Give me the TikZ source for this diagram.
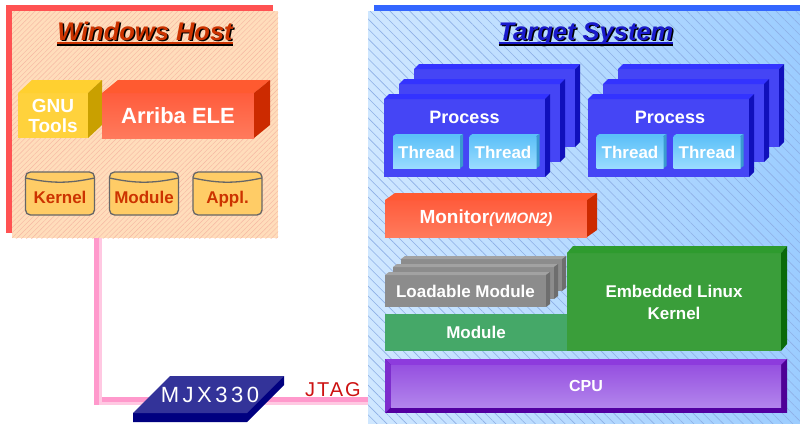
\documentclass[tikz,border=0pt]{standalone}
\usepackage{fontspec}
\setmainfont{Liberation Sans}
\usetikzlibrary{positioning, patterns.meta}

\definecolor{hostred}{HTML}{FF5252}
\definecolor{hostbg}{HTML}{FFDDBB}
\definecolor{hostline}{HTML}{F6B6A2}
\definecolor{hosttitle}{HTML}{CC3300}
\definecolor{targetblue}{HTML}{3366FF}
\definecolor{targetbgA}{HTML}{CFE7FF}
\definecolor{targetbgB}{HTML}{9CCDFF}
\definecolor{targetline}{HTML}{8EAFE6}
\definecolor{targettitle}{HTML}{1A1ACC}
\definecolor{gnufront}{HTML}{FFD23C}
\definecolor{gnutop}{HTML}{FFD030}
\definecolor{gnuside}{HTML}{C9A000}
\definecolor{elefront}{HTML}{FF5C3C}
\definecolor{elelow}{HTML}{FF7A5C}
\definecolor{eletop}{HTML}{FF5A30}
\definecolor{eleside}{HTML}{CC2A00}
\definecolor{drumfill}{HTML}{FFCC66}
\definecolor{drumline}{HTML}{666666}
\definecolor{procfront}{HTML}{4545F5}
\definecolor{proctop}{HTML}{3333FF}
\definecolor{procside}{HTML}{1010BB}
\definecolor{threadtop}{HTML}{5CC0F8}
\definecolor{threadlow}{HTML}{9ADCFF}
\definecolor{threadside}{HTML}{3A9AD0}
\definecolor{grayfront}{HTML}{8C8C8C}
\definecolor{graytop}{HTML}{A2A2A2}
\definecolor{grayside}{HTML}{6E6E6E}
\definecolor{modfront}{HTML}{45A868}
\definecolor{kernfront}{HTML}{3A9E3A}
\definecolor{kerntop}{HTML}{2E9B2E}
\definecolor{kernside}{HTML}{0A6A0A}
\definecolor{cpudark}{HTML}{5200A0}
\definecolor{cputop}{HTML}{8D3BDD}
\definecolor{cpuleft}{HTML}{7D2DCD}
\definecolor{cpuright}{HTML}{4E0096}
\definecolor{cpuhigh}{HTML}{9650E0}
\definecolor{cpulow}{HTML}{B285EC}
\definecolor{jtagpink}{HTML}{FF99CC}
\definecolor{jtaglight}{HTML}{FFC8E2}
\definecolor{jtagred}{HTML}{CC1111}
\definecolor{mjxtop}{HTML}{333399}
\definecolor{mjxside}{HTML}{000080}

% top and side faces of a box node: node, dx, dy, top colour, side colour
\newcommand{\depthfaces}[5]{%
  \fill[#4] (#1.north west) -- ++(#2,-#3) -- ([shift={(#2,-#3)}]#1.north east) -- (#1.north east) -- cycle;
  \fill[#5] (#1.north east) -- ++(#2,-#3) -- ([shift={(#2,-#3)}]#1.south east) -- (#1.south east) -- cycle;}

\begin{document}
\begin{tikzpicture}[x=1pt, y=-1pt,
    every node/.style={outer sep=0pt, text=white},
    title/.style={inner sep=0pt, anchor=base, font=\fontsize{25.5}{28}\selectfont\bfseries\itshape},
    panel/.style={inner sep=0pt, minimum width=#1},
    procface/.style={fill=procfront, minimum width=161pt, minimum height=78pt},
    proctext/.style={font=\fontsize{18}{20}\selectfont\bfseries},
    threadface/.style={top color=threadtop, bottom color=threadlow, minimum width=67pt, minimum height=32pt,
        font=\fontsize{17}{20}\selectfont\bfseries},
    grayface/.style={fill=grayfront, minimum width=161pt, minimum height=32pt, font=\fontsize{17}{20}\selectfont\bfseries},
    drum/.style={draw=drumline, line width=1.3pt, fill=drumfill, rounded corners=5pt,
        minimum width=69pt, minimum height=43pt, text=hosttitle, font=\fontsize{17}{20}\selectfont\bfseries,
        text height=19pt, text depth=0pt,
        path picture={\draw[drumline, line width=1.3pt] ([yshift=-6pt]path picture bounding box.north west)
            to[bend right=12] ([yshift=-6pt]path picture bounding box.north east);}},
    jtag/.style={line width=8pt, jtagpink}]
    \useasboundingbox (0,0) rectangle (800,423);

    % panels
    \node[panel=267pt, minimum height=228pt, fill=hostred] (hostback) at (139.5,119) {};
    \node[panel=266pt, minimum height=227pt, fill=hostbg,
        postaction={pattern={Lines[angle=45,distance=3.6pt,line width=0.4pt]}, pattern color=hostline}]
        (winhost) at (145,124.5) {};
    \node[panel=426pt, minimum height=6pt, fill=targetblue] (targetstrip) at (587,8) {};
    \node[panel=432pt, minimum height=412pt, left color=targetbgA, right color=targetbgB,
        postaction={pattern={Lines[angle=-45,distance=7pt,line width=0.6pt]}, pattern color=targetline}]
        (target) at (584,217) {};

    % titles
    \node[title, text=black] (hostshadow) at (146.5,41.5) {Windows Host};
    \node[title, text=hosttitle] (hosttitle) at (145,40) {Windows Host};
    \draw[line width=2pt, black] ([yshift=-4.5pt]hosttitle.base west) -- ([yshift=-4.5pt]hosttitle.base east);
    \draw[line width=2pt, hosttitle] ([yshift=-3pt]hosttitle.base west) -- ([yshift=-3pt]hosttitle.base east);
    \node[title, text=black] (targetshadow) at (587.5,41.5) {Target System};
    \node[title, text=targettitle] (targettitle) at (586,40) {Target System};
    \draw[line width=2pt, black] ([yshift=-4.5pt]targettitle.base west) -- ([yshift=-4.5pt]targettitle.base east);
    \draw[line width=2pt, targettitle] ([yshift=-3pt]targettitle.base west) -- ([yshift=-3pt]targettitle.base east);

    % JTAG cable
    \coordinate (hostport) at ([xshift=86pt]winhost.south west);
    \coordinate (targetport) at (target.west |- 0,401);
    \draw[jtag] (hostport) |- (targetport);
    \draw[line width=2.5pt, jtaglight] ([xshift=2.5pt]hostport) |- ([yshift=-2.5pt]targetport);
    \fill[mjxside] (284,376) -- (284,385) -- (247,422) -- (133,422) -- (133,413) -- cycle;
    \fill[mjxtop] (170,376) -- (284,376) -- (247,413) -- (133,413) -- cycle;
    \node[font=\fontsize{22}{24}\selectfont\addfontfeatures{LetterSpace=16}] (mjx) at (210,395) {MJX330};
    \node[text=jtagred, font=\fontsize{20}{22}\selectfont\addfontfeatures{LetterSpace=10}] (jtaglabel) at (333,389.5) {JTAG};

    % host tools
    \node[fill=gnufront, minimum width=70pt, minimum height=45pt, align=center,
        font=\fontsize{19}{20}\selectfont\bfseries] (gnu) at (53,115.5) {GNU\\Tools};
    \depthfaces{gnu}{14}{13}{gnutop}{gnuside}
    \node[top color=elefront, bottom color=elelow, minimum width=152pt, minimum height=45pt,
        font=\fontsize{22}{24}\selectfont\bfseries] (arriba) at (178,115.5) {Arriba ELE};
    \depthfaces{arriba}{16}{13}{eletop}{eleside}
    \node[drum] (kernsrc) at (60,193.5) {Kernel};
    \node[drum] (modsrc) at (144,193.5) {Module};
    \node[drum] (applsrc) at (227.5,193.5) {Appl.};

    % processes
    \node[procface] (procA3) at (494.5,108) {};
    \depthfaces{procA3}{5}{5}{proctop}{procside}
    \node[procface] (procA2) at (479.5,123) {};
    \depthfaces{procA2}{5}{5}{proctop}{procside}
    \node[procface] (procA1) at (464.5,138) {};
    \depthfaces{procA1}{5}{5}{proctop}{procside}
    \node[proctext] (procAlabel) at (464.5,117) {Process};
    \node[threadface] (threadA1) at (426.5,152) {Thread};
    \depthfaces{threadA1}{3}{2}{threadtop}{threadside}
    \node[threadface] (threadA2) at (503,152) {Thread};
    \depthfaces{threadA2}{3}{2}{threadtop}{threadside}

    \node[procface] (procB3) at (698.5,108) {};
    \depthfaces{procB3}{5}{5}{proctop}{procside}
    \node[procface] (procB2) at (683.5,123) {};
    \depthfaces{procB2}{5}{5}{proctop}{procside}
    \node[procface] (procB1) at (668.5,138) {};
    \depthfaces{procB1}{5}{5}{proctop}{procside}
    \node[proctext] (procBlabel) at (670,117) {Process};
    \node[threadface] (threadB1) at (630,152) {Thread};
    \depthfaces{threadB1}{3}{2}{threadtop}{threadside}
    \node[threadface] (threadB2) at (707,152) {Thread};
    \depthfaces{threadB2}{3}{2}{threadtop}{threadside}

    % monitor
    \node[top color=elefront, bottom color=elelow, minimum width=202pt, minimum height=37pt,
        font=\fontsize{19}{22}\selectfont\bfseries] (monitor) at (486,218.5)
        {Monitor{\fontsize{15}{18}\selectfont\itshape(VMON2)}};
    \depthfaces{monitor}{10}{7}{eletop}{eleside}

    % kernel side
    \node[grayface] (loadC) at (481.5,275) {};
    \depthfaces{loadC}{4}{3}{graytop}{grayside}
    \node[grayface] (loadB) at (473.5,283) {};
    \depthfaces{loadB}{4}{3}{graytop}{grayside}
    \node[grayface] (loadA) at (465.5,291) {Loadable Module};
    \depthfaces{loadA}{4}{3}{graytop}{grayside}
    \node[fill=modfront, minimum width=182pt, minimum height=37pt,
        font=\fontsize{17}{20}\selectfont\bfseries] (module) at (476,332.5) {Module};
    \node[fill=kernfront, minimum width=214pt, minimum height=98pt, align=center,
        font=\fontsize{17}{22}\selectfont\bfseries] (kernel) at (674,302) {Embedded Linux\\Kernel};
    \depthfaces{kernel}{6}{7}{kerntop}{kernside}

    % cpu
    \node[fill=cpudark, minimum width=402pt, minimum height=54pt] (cpu) at (586,386) {};
    \fill[cputop] (cpu.north west) -- (cpu.north east) -- ++(-6,6) -- ([shift={(6,6)}]cpu.north west) -- cycle;
    \fill[cpuleft] (cpu.north west) -- ++(6,6) -- ([shift={(6,-6)}]cpu.south west) -- (cpu.south west) -- cycle;
    \fill[cpuright] (cpu.north east) -- ++(-6,6) -- ([shift={(-6,-6)}]cpu.south east) -- (cpu.south east) -- cycle;
    \node[top color=cpuhigh, bottom color=cpulow, minimum width=390pt, minimum height=42pt,
        font=\fontsize{16}{20}\selectfont\bfseries] (cpulabel) at (cpu) {CPU};
\end{tikzpicture}
\end{document}
